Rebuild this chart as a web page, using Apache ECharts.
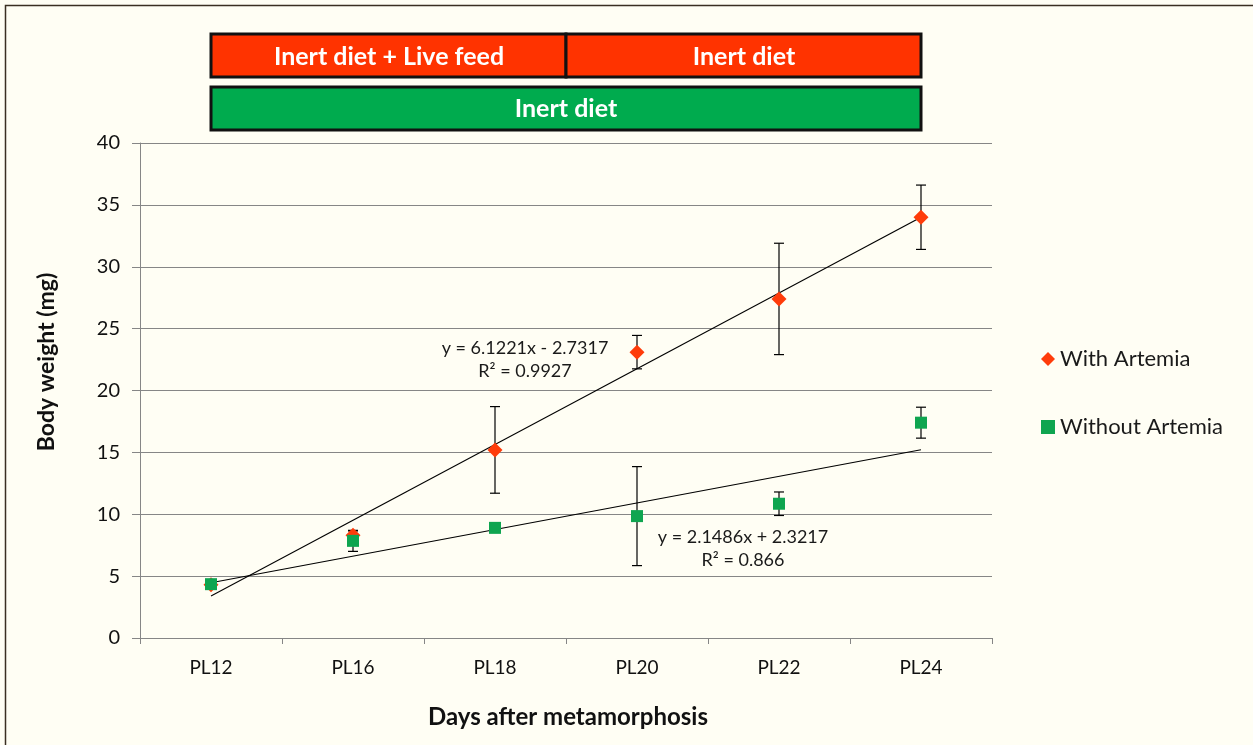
<!DOCTYPE html>
<html>
<head>
<meta charset="utf-8">
<script src="https://cdn.jsdelivr.net/npm/echarts@6/dist/echarts.min.js"></script>
<style>
html,body{margin:0;padding:0;background:#fffef4;}
#chart{width:1253px;height:745px;}
</style>
</head>
<body>
<div id="chart"></div>
<script>
const categories = ['PL12','PL16','PL18','PL20','PL22','PL24'];
const withArtemia = [4.3, 8.3, 15.2, 23.1, 27.4, 34.0];
const withArtemiaErr = [0.2, 0.35, 3.5, 1.35, 4.5, 2.6];
const withoutArtemia = [4.35, 7.85, 8.9, 9.85, 10.85, 17.4];
const withoutArtemiaErr = [0.2, 0.85, 0.2, 4.0, 0.95, 1.25];
const trendWith = {slope: 6.1221, intercept: -2.7317, label: 'y = 6.1221x - 2.7317\nR² = 0.9927'};
const trendWithout = {slope: 2.1486, intercept: 2.3217, label: 'y = 2.1486x + 2.3217\nR² = 0.866'};
const yTicks = [0, 5, 10, 15, 20, 25, 30, 35, 40];

const FONT = 'Lato, "Open Sans", sans-serif';
const chart = echarts.init(document.getElementById('chart'));

function trendData(t){
  const n = categories.length;
  return [[0, t.slope*1 + t.intercept], [n-1, t.slope*n + t.intercept]];
}
function errData(vals, errs){
  return vals.map((v,i)=>[i, v-errs[i], v+errs[i]]);
}
function errSeries(vals, errs){
  return {
    type:'custom', z:3, silent:true,
    data: errData(vals, errs),
    encode:{x:0, y:[1,2]},
    renderItem: function(params, api){
      const lo = api.coord([api.value(0), api.value(1)]);
      const hi = api.coord([api.value(0), api.value(2)]);
      const w = 5;
      const st = {stroke:'#000', lineWidth:1.2};
      return {type:'group', children:[
        {type:'line', shape:{x1:lo[0],y1:lo[1],x2:hi[0],y2:hi[1]}, style:st},
        {type:'line', shape:{x1:lo[0]-w,y1:lo[1],x2:lo[0]+w,y2:lo[1]}, style:st},
        {type:'line', shape:{x1:hi[0]-w,y1:hi[1],x2:hi[0]+w,y2:hi[1]}, style:st}
      ]};
    }
  };
}

const boxTextStyle = {fill:'#fff', font:'bold 25px ' + FONT, textAlign:'center', textVerticalAlign:'middle'};
const trendLabel = {show:true, fontFamily:FONT, fontSize:18, color:'#1a1a1a', lineHeight:23, align:'center'};

chart.setOption({
  backgroundColor:'#fffef4',
  animation:false,
  grid:{left:140, right:261, top:143, bottom:107},
  legend:{
    orient:'vertical', left:1036, top:343, itemGap:46,
    itemWidth:14, itemHeight:14,
    textStyle:{fontFamily:FONT, fontSize:22, color:'#1a1a1a'},
    data:[
      {name:'With Artemia', icon:'diamond'},
      {name:'Without Artemia', icon:'rect'}
    ]
  },
  xAxis:{
    type:'category', data:categories, boundaryGap:true,
    axisLine:{lineStyle:{color:'#868686', width:1}},
    axisTick:{show:true, length:6, lineStyle:{color:'#868686'}},
    axisLabel:{fontFamily:FONT, fontSize:19, color:'#111', margin:20}
  },
  yAxis:{
    type:'value', min:0, max:40, interval:5,
    axisLine:{show:true, lineStyle:{color:'#868686'}},
    axisTick:{show:true, length:8, lineStyle:{color:'#868686'}},
    axisLabel:{fontFamily:FONT, fontSize:20, color:'#111', margin:20},
    splitLine:{lineStyle:{color:'#868686', width:1}}
  },
  series:[
    {
      name:'trendWith', type:'line', data:trendData(trendWith), symbol:'none', silent:true, z:2,
      lineStyle:{color:'#000', width:1.1},
      markPoint:{symbol:'rect', symbolSize:1, itemStyle:{color:'transparent'},
        data:[{coord:[2, 22.5], value:trendWith.label,
          label:Object.assign({formatter:trendWith.label, offset:[30,0]}, trendLabel)}]}
    },
    {
      name:'trendWithout', type:'line', data:trendData(trendWithout), symbol:'none', silent:true, z:2,
      lineStyle:{color:'#000', width:1.1},
      markPoint:{symbol:'rect', symbolSize:1, itemStyle:{color:'transparent'},
        data:[{coord:[4, 7.2], value:trendWithout.label,
          label:Object.assign({formatter:trendWithout.label, offset:[-36,0]}, trendLabel)}]}
    },
    errSeries(withArtemia, withArtemiaErr),
    errSeries(withoutArtemia, withoutArtemiaErr),
    {
      name:'With Artemia', type:'scatter', data:withArtemia, symbol:'diamond', symbolSize:15, z:4,
      itemStyle:{color:'#ff3c0a', opacity:1}
    },
    {
      name:'Without Artemia', type:'scatter', data:withoutArtemia, symbol:'rect', symbolSize:12, z:5,
      itemStyle:{color:'#0fa550', opacity:1}
    }
  ],
  graphic:[
    {type:'polyline', shape:{points:[[5.5,745],[5.5,5.5],[1253,5.5]]}, style:{fill:'none', stroke:'#3a2f22', lineWidth:1.5}, silent:true},
    {type:'rect', shape:{x:211, y:34, width:355, height:43}, style:{fill:'#ff3300', stroke:'#111', lineWidth:3}},
    {type:'rect', shape:{x:566, y:34, width:355, height:43}, style:{fill:'#ff3300', stroke:'#111', lineWidth:3}},
    {type:'rect', shape:{x:211, y:87, width:710, height:43}, style:{fill:'#00ab4e', stroke:'#111', lineWidth:3}},
    {type:'text', x:389, y:57, style:Object.assign({text:'Inert diet + Live feed'}, boxTextStyle)},
    {type:'text', x:744, y:57, style:Object.assign({text:'Inert diet'}, boxTextStyle)},
    {type:'text', x:566, y:109, style:Object.assign({text:'Inert diet'}, boxTextStyle)},
    {type:'text', x:47, y:362, rotation:Math.PI/2,
      style:{text:'Body weight (mg)', font:'bold 23px ' + FONT, fill:'#111', textAlign:'center', textVerticalAlign:'middle'}},
    {type:'text', x:568, y:717,
      style:{text:'Days after metamorphosis', font:'bold 24px ' + FONT, fill:'#111', textAlign:'center', textVerticalAlign:'middle'}}
  ]
});
</script>
</body>
</html>
